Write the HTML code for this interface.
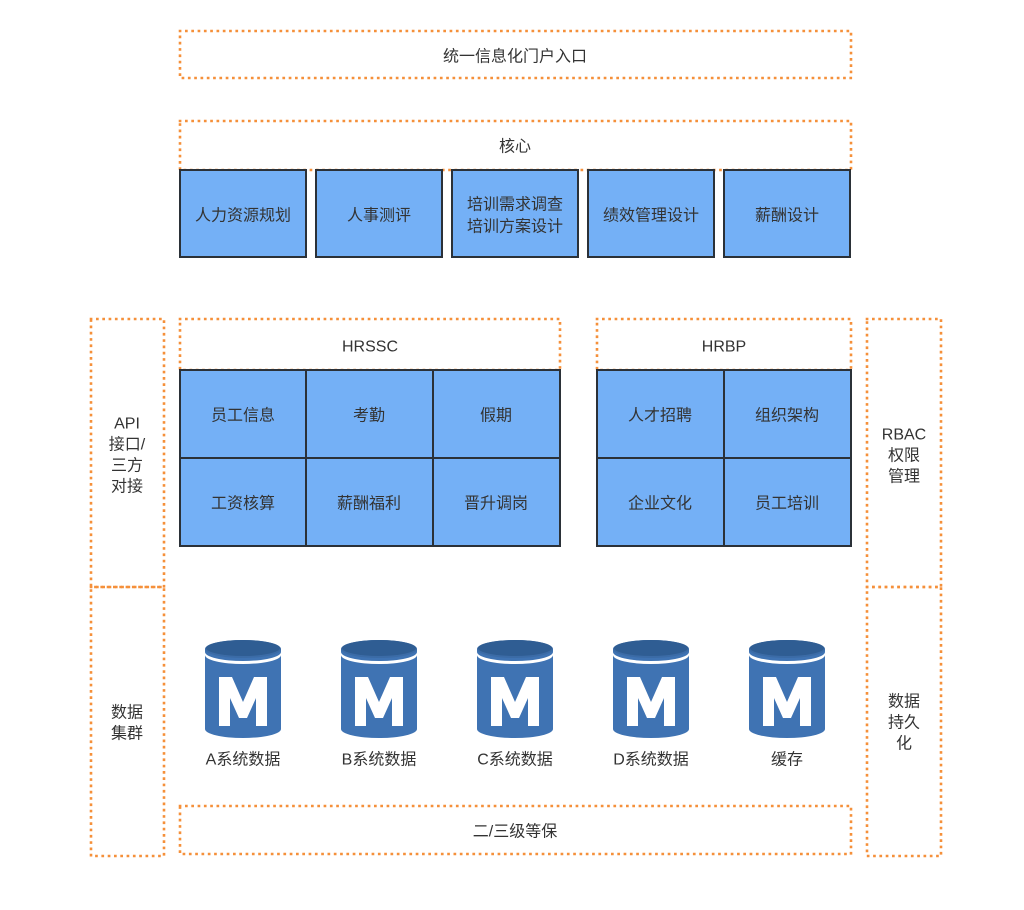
<!DOCTYPE html>
<html><head><meta charset="utf-8"><style>
html,body{margin:0;padding:0;background:#fff;}
svg text{font-family:"Liberation Sans","Noto Sans CJK SC",sans-serif;font-size:16px;fill:#333;text-anchor:middle;dominant-baseline:central;}
</style></head><body>
<svg width="1024" height="905" viewBox="0 0 1024 905" xmlns="http://www.w3.org/2000/svg">
<defs>
<g id="db">
 <path d="M-38,9 L-38,89 A38,9 0 0 0 38,89 L38,9 Z" fill="#3f73b3"/>
 <ellipse cx="0" cy="9" rx="38" ry="9" fill="#3b6ba6"/>
 <ellipse cx="0" cy="8" rx="37" ry="8" fill="#2f5d93"/>
 <path d="M-38,12 A38,9 0 0 0 38,12 L38,15 A38,9 0 0 1 -38,15 Z" fill="#fff"/>
 <path d="M-24,37 L-11,37 L0,62 L11,37 L24,37 L24,86 L13,86 L13,58 L4,78 L-4,78 L-13,58 L-13,86 L-24,86 Z" fill="#fff"/>
</g>
</defs>
<g fill="none" stroke="#f5903a" stroke-width="2.6" stroke-dasharray="0.1 6.2" stroke-linecap="square">
 <rect x="180" y="31" width="671" height="47"/>
 <rect x="180" y="121" width="671" height="49"/>
 <rect x="180" y="319" width="380" height="51"/>
 <rect x="597" y="319" width="254" height="51"/>
 <rect x="91" y="319" width="73" height="268"/>
 <rect x="91" y="587" width="73" height="269"/>
 <rect x="867" y="319" width="74" height="268"/>
 <rect x="867" y="587" width="74" height="269"/>
 <rect x="180" y="806" width="671" height="48"/>
</g>
<g fill="#74b0f6" stroke="#2b3138" stroke-width="2">
 <rect x="180" y="170" width="126" height="87"/>
 <rect x="316" y="170" width="126" height="87"/>
 <rect x="452" y="170" width="126" height="87"/>
 <rect x="588" y="170" width="126" height="87"/>
 <rect x="724" y="170" width="126" height="87"/>
 <rect x="180" y="370" width="126" height="88"/>
 <rect x="306" y="370" width="127" height="88"/>
 <rect x="433" y="370" width="127" height="88"/>
 <rect x="180" y="458" width="126" height="88"/>
 <rect x="306" y="458" width="127" height="88"/>
 <rect x="433" y="458" width="127" height="88"/>
 <rect x="597" y="370" width="127" height="88"/>
 <rect x="724" y="370" width="127" height="88"/>
 <rect x="597" y="458" width="127" height="88"/>
 <rect x="724" y="458" width="127" height="88"/>
</g>
<g transform="translate(0,2)">
<text x="515" y="55">统一信息化门户入口</text>
<text x="515" y="145">核心</text>
<text x="243" y="214">人力资源规划</text>
<text x="379" y="214">人事测评</text>
<text x="515" y="203">培训需求调查</text>
<text x="515" y="225">培训方案设计</text>
<text x="651" y="214">绩效管理设计</text>
<text x="787" y="214">薪酬设计</text>
<text x="370" y="345">HRSSC</text>
<text x="724" y="345">HRBP</text>
<text x="243" y="414">员工信息</text>
<text x="369" y="414">考勤</text>
<text x="496" y="414">假期</text>
<text x="243" y="502">工资核算</text>
<text x="369" y="502">薪酬福利</text>
<text x="496" y="502">晋升调岗</text>
<text x="660" y="414">人才招聘</text>
<text x="787" y="414">组织架构</text>
<text x="660" y="502">企业文化</text>
<text x="787" y="502">员工培训</text>
<text x="127" y="422">API</text>
<text x="127" y="443">接口/</text>
<text x="127" y="464">三方</text>
<text x="127" y="485">对接</text>
<text x="904" y="433">RBAC</text>
<text x="904" y="454">权限</text>
<text x="904" y="475">管理</text>
<text x="127" y="711">数据</text>
<text x="127" y="732">集群</text>
<text x="904" y="700">数据</text>
<text x="904" y="721">持久</text>
<text x="904" y="742">化</text>
<text x="243" y="758">A系统数据</text>
<text x="379" y="758">B系统数据</text>
<text x="515" y="758">C系统数据</text>
<text x="651" y="758">D系统数据</text>
<text x="787" y="758">缓存</text>
<text x="515" y="830">二/三级等保</text>
</g>
<use href="#db" x="243" y="640"/>
<use href="#db" x="379" y="640"/>
<use href="#db" x="515" y="640"/>
<use href="#db" x="651" y="640"/>
<use href="#db" x="787" y="640"/>
</svg>
</body></html>
